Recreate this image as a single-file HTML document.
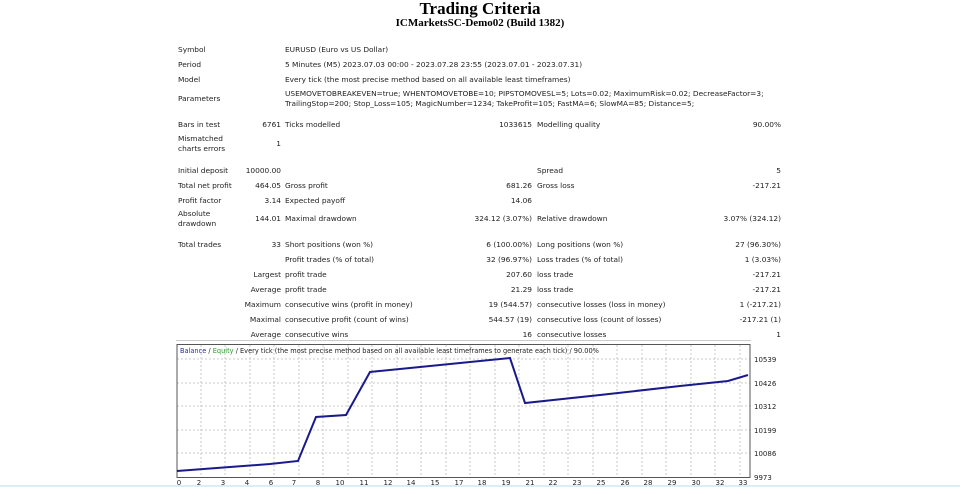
<!DOCTYPE html>
<html><head><meta charset="utf-8"><style>
html,body{margin:0;padding:0;background:#fff;width:960px;height:487px;overflow:hidden;position:relative}
.t{position:absolute;font-family:"DejaVu Sans","Liberation Sans",sans-serif;font-size:7.4px;color:#222;white-space:nowrap;line-height:10px}
.r{text-align:right}
.h1{position:absolute;left:0;width:960px;text-align:center;font-family:"Liberation Serif",serif;font-weight:bold;color:#000}
</style></head><body>
<div class="h1" style="top:-1px;font-size:17px">Trading Criteria</div>
<div class="h1" style="top:17px;font-size:11px">ICMarketsSC-Demo02 (Build 1382)</div>

<div class="t" style="left:178px;top:45px">Symbol</div><div class="t" style="left:285px;top:45px">EURUSD (Euro vs US Dollar)</div>
<div class="t" style="left:178px;top:60px">Period</div><div class="t" style="left:285px;top:60px">5 Minutes (M5) 2023.07.03 00:00 - 2023.07.28 23:55 (2023.07.01 - 2023.07.31)</div>
<div class="t" style="left:178px;top:75px">Model</div><div class="t" style="left:285px;top:75px">Every tick (the most precise method based on all available least timeframes)</div>
<div class="t" style="left:178px;top:94px">Parameters</div>
<div class="t" style="left:285px;top:89px">USEMOVETOBREAKEVEN=true; WHENTOMOVETOBE=10; PIPSTOMOVESL=5; Lots=0.02; MaximumRisk=0.02; DecreaseFactor=3;</div>
<div class="t" style="left:285px;top:99px">TrailingStop=200; Stop_Loss=105; MagicNumber=1234; TakeProfit=105; FastMA=6; SlowMA=85; Distance=5;</div>

<div class="t" style="left:178px;top:120px">Bars in test</div><div class="t r" style="right:679px;top:120px">6761</div>
<div class="t" style="left:285px;top:120px">Ticks modelled</div><div class="t r" style="right:428px;top:120px">1033615</div>
<div class="t" style="left:537px;top:120px">Modelling quality</div><div class="t r" style="right:179px;top:120px">90.00%</div>
<div class="t" style="left:178px;top:134px">Mismatched<br>charts errors</div><div class="t r" style="right:679px;top:139px">1</div>

<div class="t" style="left:178px;top:166px">Initial deposit</div><div class="t r" style="right:679px;top:166px">10000.00</div>
<div class="t" style="left:537px;top:166px">Spread</div><div class="t r" style="right:179px;top:166px">5</div>
<div class="t" style="left:178px;top:181px">Total net profit</div><div class="t r" style="right:679px;top:181px">464.05</div>
<div class="t" style="left:285px;top:181px">Gross profit</div><div class="t r" style="right:428px;top:181px">681.26</div>
<div class="t" style="left:537px;top:181px">Gross loss</div><div class="t r" style="right:179px;top:181px">-217.21</div>
<div class="t" style="left:178px;top:196px">Profit factor</div><div class="t r" style="right:679px;top:196px">3.14</div>
<div class="t" style="left:285px;top:196px">Expected payoff</div><div class="t r" style="right:428px;top:196px">14.06</div>
<div class="t" style="left:178px;top:209px">Absolute<br>drawdown</div><div class="t r" style="right:679px;top:214px">144.01</div>
<div class="t" style="left:285px;top:214px">Maximal drawdown</div><div class="t r" style="right:428px;top:214px">324.12 (3.07%)</div>
<div class="t" style="left:537px;top:214px">Relative drawdown</div><div class="t r" style="right:179px;top:214px">3.07% (324.12)</div>

<div class="t" style="left:178px;top:240px">Total trades</div><div class="t r" style="right:679px;top:240px">33</div>
<div class="t" style="left:285px;top:240px">Short positions (won %)</div><div class="t r" style="right:428px;top:240px">6 (100.00%)</div>
<div class="t" style="left:537px;top:240px">Long positions (won %)</div><div class="t r" style="right:179px;top:240px">27 (96.30%)</div>
<div class="t" style="left:285px;top:255px">Profit trades (% of total)</div><div class="t r" style="right:428px;top:255px">32 (96.97%)</div>
<div class="t" style="left:537px;top:255px">Loss trades (% of total)</div><div class="t r" style="right:179px;top:255px">1 (3.03%)</div>
<div class="t r" style="right:679px;top:270px">Largest</div><div class="t" style="left:285px;top:270px">profit trade</div><div class="t r" style="right:428px;top:270px">207.60</div>
<div class="t" style="left:537px;top:270px">loss trade</div><div class="t r" style="right:179px;top:270px">-217.21</div>
<div class="t r" style="right:679px;top:285px">Average</div><div class="t" style="left:285px;top:285px">profit trade</div><div class="t r" style="right:428px;top:285px">21.29</div>
<div class="t" style="left:537px;top:285px">loss trade</div><div class="t r" style="right:179px;top:285px">-217.21</div>
<div class="t r" style="right:679px;top:300px">Maximum</div><div class="t" style="left:285px;top:300px">consecutive wins (profit in money)</div><div class="t r" style="right:428px;top:300px">19 (544.57)</div>
<div class="t" style="left:537px;top:300px">consecutive losses (loss in money)</div><div class="t r" style="right:179px;top:300px">1 (-217.21)</div>
<div class="t r" style="right:679px;top:315px">Maximal</div><div class="t" style="left:285px;top:315px">consecutive profit (count of wins)</div><div class="t r" style="right:428px;top:315px">544.57 (19)</div>
<div class="t" style="left:537px;top:315px">consecutive loss (count of losses)</div><div class="t r" style="right:179px;top:315px">-217.21 (1)</div>
<div class="t r" style="right:679px;top:330px">Average</div><div class="t" style="left:285px;top:330px">consecutive wins</div><div class="t r" style="right:428px;top:330px">16</div>
<div class="t" style="left:537px;top:330px">consecutive losses</div><div class="t r" style="right:179px;top:330px">1</div>
<div style="position:absolute;left:176px;top:340px;width:575px;height:1px;background:#ccc"></div>
<div style="position:absolute;left:0;top:485px;width:960px;height:2px;background:#dbeef8"></div>

<svg style="position:absolute;left:0;top:0" width="960" height="487">
<g stroke="#bbb" stroke-width="0.8" stroke-dasharray="2,2">
<line x1="201" y1="345" x2="201" y2="477"/><line x1="225" y1="345" x2="225" y2="477"/><line x1="250" y1="345" x2="250" y2="477"/><line x1="274" y1="345" x2="274" y2="477"/><line x1="299" y1="345" x2="299" y2="477"/><line x1="323" y1="345" x2="323" y2="477"/><line x1="348" y1="345" x2="348" y2="477"/><line x1="372" y1="345" x2="372" y2="477"/><line x1="397" y1="345" x2="397" y2="477"/><line x1="421" y1="345" x2="421" y2="477"/><line x1="446" y1="345" x2="446" y2="477"/><line x1="470" y1="345" x2="470" y2="477"/><line x1="495" y1="345" x2="495" y2="477"/><line x1="519" y1="345" x2="519" y2="477"/><line x1="544" y1="345" x2="544" y2="477"/><line x1="568" y1="345" x2="568" y2="477"/><line x1="593" y1="345" x2="593" y2="477"/><line x1="617" y1="345" x2="617" y2="477"/><line x1="642" y1="345" x2="642" y2="477"/><line x1="666" y1="345" x2="666" y2="477"/><line x1="691" y1="345" x2="691" y2="477"/><line x1="715" y1="345" x2="715" y2="477"/><line x1="740" y1="345" x2="740" y2="477"/>
<line x1="177" y1="359" x2="750" y2="359"/><line x1="177" y1="383" x2="750" y2="383"/><line x1="177" y1="406" x2="750" y2="406"/><line x1="177" y1="430" x2="750" y2="430"/><line x1="177" y1="453" x2="750" y2="453"/>
</g>
<rect x="177" y="344.5" width="573" height="133" fill="none" stroke="#555" stroke-width="1"/>
<polyline fill="none" stroke="#1a1a8c" stroke-width="2" points="177,471 230,467 270,464 298,461 316,417 346,415 370,372 420,367 470,362 510,358 525,403 600,395 680,386 728,381 748,375"/>
<g fill="#222" font-family="DejaVu Sans,Liberation Sans,sans-serif" font-size="7px">
<text x="754" y="362">10539</text><text x="754" y="386">10426</text><text x="754" y="409">10312</text><text x="754" y="433">10199</text><text x="754" y="456">10086</text><text x="754" y="480">9973</text>
<g text-anchor="middle">
<text x="179" y="485">0</text><text x="199" y="485">2</text><text x="223" y="485">3</text><text x="247" y="485">4</text><text x="271" y="485">6</text><text x="294" y="485">7</text><text x="318" y="485">8</text><text x="340" y="485">10</text><text x="364" y="485">11</text><text x="388" y="485">12</text><text x="411" y="485">14</text><text x="435" y="485">15</text><text x="459" y="485">17</text><text x="482" y="485">18</text><text x="506" y="485">19</text><text x="530" y="485">21</text><text x="553" y="485">22</text><text x="577" y="485">23</text><text x="601" y="485">25</text><text x="625" y="485">26</text><text x="648" y="485">28</text><text x="672" y="485">29</text><text x="696" y="485">30</text><text x="720" y="485">32</text><text x="743" y="485">33</text>
</g>
<text x="180" y="353" font-size="6.6px"><tspan fill="#2a2ab0">Balance</tspan> / <tspan fill="#2aa02a">Equity</tspan> / Every tick (the most precise method based on all available least timeframes to generate each tick) / 90.00%</text>
</g>
</svg>
</body></html>
